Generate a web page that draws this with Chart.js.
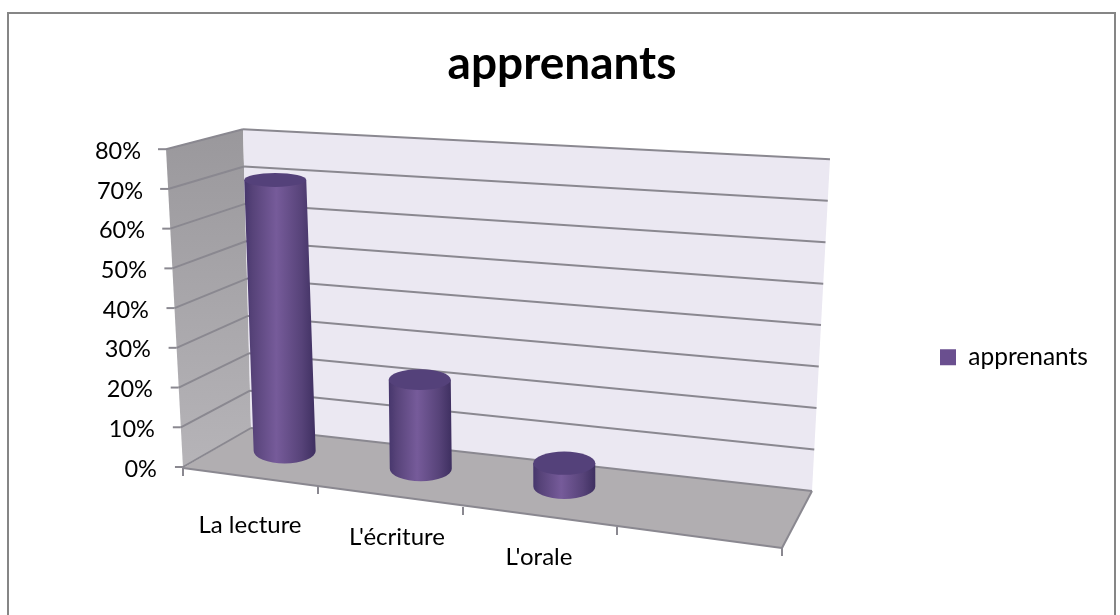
<!DOCTYPE html>
<html><head><meta charset="utf-8">
<style>html,body{margin:0;padding:0;background:#fff}canvas{display:block}</style>
<script src="https://cdn.jsdelivr.net/npm/chart.js@4"></script>
</head><body><canvas id="c" width="1120" height="615"></canvas>
<script>
const categories = ["La lecture", "L'écriture", "L'orale", ""];
const seriesName = "apprenants";
const seriesValues = [70, 23, 6, null];
const yTickStep = 10;
const yMax = 80;
const FONT = "Lato, Carlito, sans-serif";

class CylinderBar extends Chart.BarElement {
  draw(ctx) {
    const {x, y, base, width} = this.getProps(['x','y','base','width']);
    const full = base - y;
    const h = full * 0.975;                   // bars stand a little behind the front of the axis
    const lean = h * h * 1.28e-4;
    const yb = 451 + (x - 275) * 0.1225;      // depth line across the floor
    const yt = yb - h;
    const cxT = x, cxB = x + lean;
    const r = width / 2;
    const ryB = 12.5, ryT = 12 - h * 0.0185;
    const grad = ctx.createLinearGradient(cxT - r, 0, cxT + r + lean, 0);
    grad.addColorStop(0, '#46366c');
    grad.addColorStop(0.12, '#574379');
    grad.addColorStop(0.45, '#765b9a');
    grad.addColorStop(0.8, '#574379');
    grad.addColorStop(1, '#3e2f60');
    ctx.save();
    ctx.fillStyle = grad;
    ctx.beginPath();
    ctx.moveTo(cxT - r, yt);
    ctx.lineTo(cxB - r, yb);
    ctx.ellipse(cxB, yb, r, ryB, 0, Math.PI, 0, true);
    ctx.lineTo(cxT + r, yt);
    ctx.closePath();
    ctx.fill();
    ctx.fillStyle = '#54417a';
    ctx.beginPath();
    ctx.ellipse(cxT, yt, r, ryT, 0, 0, Math.PI * 2);
    ctx.fill();
    ctx.restore();
  }
}
CylinderBar.id = 'cylinderBar';
CylinderBar.defaults = Chart.BarElement.defaults;
CylinderBar.defaultRoutes = Chart.BarElement.defaultRoutes;

class CylinderController extends Chart.BarController {}
CylinderController.id = 'cylinder';
CylinderController.defaults = Object.assign({}, Chart.BarController.defaults, {dataElementType: 'cylinderBar'});
CylinderController.overrides = Chart.BarController.overrides;
Chart.register(CylinderBar, CylinderController);

const poly = (ctx, pts, fill) => {
  ctx.beginPath();
  pts.forEach((p, i) => i ? ctx.lineTo(p[0], p[1]) : ctx.moveTo(p[0], p[1]));
  ctx.closePath();
  ctx.fillStyle = fill;
  ctx.fill();
};
const line = (ctx, x1, y1, x2, y2) => {
  ctx.beginPath(); ctx.moveTo(x1, y1); ctx.lineTo(x2, y2); ctx.stroke();
};

const scene3d = {
  id: 'scene3d',
  beforeLayout(chart) {
    const l = chart.legend;
    if (l && !l._patched) {
      const fit = l.fit;
      l.fit = function () { fit.call(this); this.width = 339; this.height = 50; };
      l._patched = true;
    }
  },
  afterLayout(chart) {
    const l = chart.legend;
    l.left = 930; l.right = 1110; l.top = 335; l.bottom = 385;
    const t = chart.titleBlock;
    t.left = 0; t.right = 1124;
  },
  beforeDraw(chart) {
    const ya = chart.scales.y, xa = chart.scales.x;
    ya.getLabelItems().forEach(it => {
      const py = it.options.translation[1];
      // labels follow the slanted front edge of the side wall
      it.options.translation = [141 + (py - 149) * 0.05, py + 2];
    });
    const yOff = [525, 537, 557, 570], xOff = [250, 397, 539, 700];
    xa.getLabelItems().forEach((it, i) => {
      it.options.translation = [xOff[i], yOff[i]];
      it.options.textBaseline = 'middle';
      it.textOffset = 0;
    });
  },
  beforeDatasetsDraw(chart) {
    const ctx = chart.ctx, ya = chart.scales.y;
    ctx.save();
    // outer frame, its lower edge lies below the picture
    ctx.strokeStyle = '#868686'; ctx.lineWidth = 2;
    ctx.strokeRect(8, 13, 1107, 640);

    const front = v => ya.getPixelForValue(v);
    const fx0 = 183, fxTop = 166;
    const fLeft = py => fx0 + (py - 468) / (149 - 468) * (fxTop - fx0);
    const backL = py => 428 + (py - 467) * (299 / 318);
    const bxL = py => 251 + (py - 467) * (8 / 318);
    const backR = py => 491 + (py - 467) * (332 / 318);
    const bxR = py => 812 - (py - 467) * (18 / 318);

    const wg = ctx.createLinearGradient(0, 129, 0, 468);
    wg.addColorStop(0, '#9a989c'); wg.addColorStop(1, '#b6b4b8');
    poly(ctx, [[166,149],[243,129],[251,428],[183,468]], wg);
    poly(ctx, [[243,129],[830,159],[812,491],[251,428]], '#ebe8f2');
    poly(ctx, [[183,468],[251,428],[812,491],[782,548]], '#b1aeb1');

    ctx.strokeStyle = '#8a8890'; ctx.lineWidth = 2;
    ya.ticks.forEach(t => {
      const py = front(t.value);
      line(ctx, fLeft(py) - 8, py, fLeft(py), py);
      line(ctx, fLeft(py), py, bxL(py), backL(py));
      line(ctx, bxL(py), backL(py), bxR(py), backR(py));
    });
    // floor front edge with category ticks
    line(ctx, 183, 468, 782, 548);
    line(ctx, 782, 548, 812, 491);
    [[183,468],[318,486],[463,507],[617,527],[782,548]].forEach(p => line(ctx, p[0], p[1], p[0], p[1] + 8));
    ctx.restore();
  }
};

new Chart(document.getElementById('c'), {
  type: 'cylinder',
  data: {
    labels: categories,
    datasets: [{
      label: seriesName,
      data: seriesValues,
      backgroundColor: '#6a4f8f',
      barThickness: 62,
      clip: false
    }]
  },
  options: {
    responsive: false,
    animation: false,
    layout: {padding: {left: 0, right: 0, top: 0, bottom: 48}},
    scales: {
      x: {
        grid: {display: false}, border: {display: false},
        ticks: {color: '#000', font: {family: FONT, size: 24}, autoSkip: false, maxRotation: 0, minRotation: 0},
        afterFit(s) { s.height = 100; }
      },
      y: {
        min: 0, max: yMax,
        grid: {display: false}, border: {display: false},
        ticks: {stepSize: yTickStep, color: '#000', font: {family: FONT, size: 23.5}, callback: v => v + '%'},
        afterFit(s) { s.width = 203; }
      }
    },
    plugins: {
      title: {
        display: true, text: seriesName, color: '#000',
        font: {family: FONT, size: 46, weight: 'bold'},
        padding: {top: 37, bottom: 57}
      },
      legend: {
        display: true, position: 'right', align: 'start',
        labels: {color: '#000', font: {family: FONT, size: 24.5}, boxWidth: 16, boxHeight: 16, padding: 10}
      },
      tooltip: {enabled: false}
    }
  },
  plugins: [scene3d]
});
</script></body></html>
